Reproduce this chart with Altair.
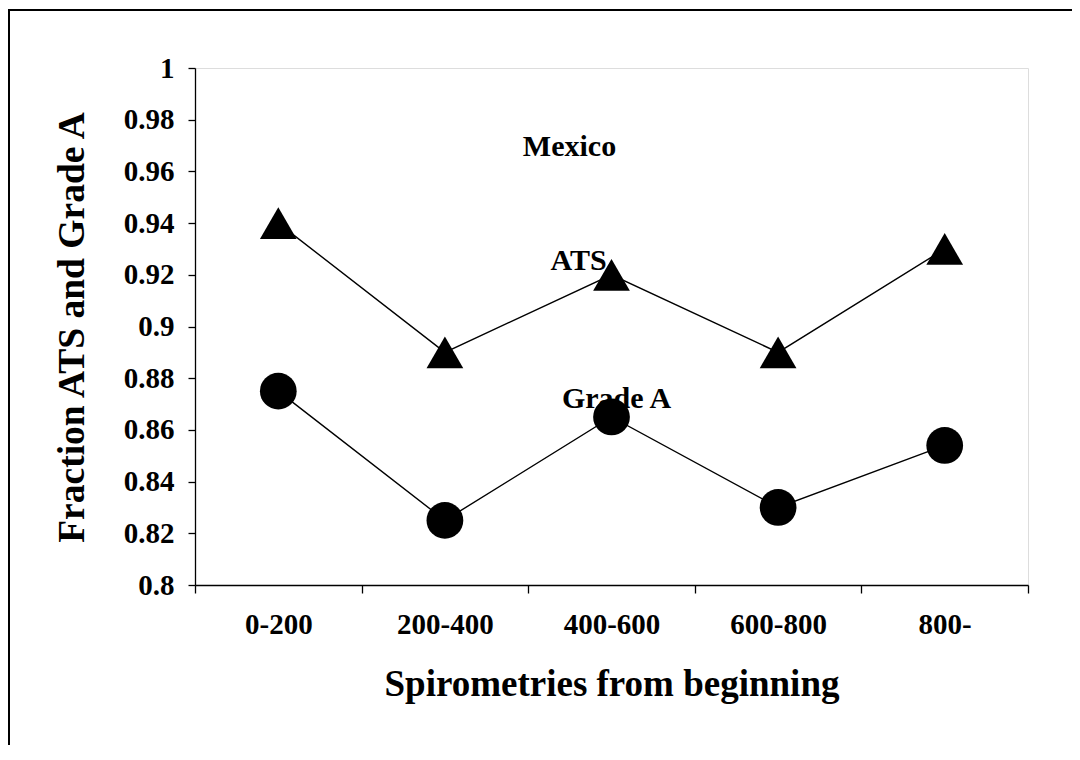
import altair as alt
import pandas as pd

categories = ["0-200", "200-400", "400-600", "600-800", "800-"]
ats_values = [0.94, 0.89, 0.92, 0.89, 0.93]
grade_a_values = [0.875, 0.825, 0.865, 0.83, 0.854]
y_ticks = [0.8, 0.82, 0.84, 0.86, 0.88, 0.9, 0.92, 0.94, 0.96, 0.98, 1.0]

ann_text = ["Mexico", "ATS", "Grade A"]
ann_cat = ["400-600", "400-600", "400-600"]
ann_val = [0.9696, 0.9253, 0.872]
ann_dx = [-42, -33, 5]

rows = []
for c, v in zip(categories, ats_values):
    rows.append({"cat": c, "val": v, "series": "ATS"})
for c, v in zip(categories, grade_a_values):
    rows.append({"cat": c, "val": v, "series": "Grade A"})
df = pd.DataFrame(rows)

FONT = "Liberation Serif"

x_enc = alt.X(
    "cat:N",
    sort=categories,
    scale=alt.Scale(type="band", domain=categories, paddingInner=0, paddingOuter=0),
    axis=alt.Axis(
        title="Spirometries from beginning",
        labelAngle=0,
        labelFont=FONT, labelFontSize=29, labelFontWeight="bold", labelColor="black",
        labelBaseline="middle", labelPadding=31,
        tickBand="extent", tickSize=8, tickColor="black", tickWidth=1.3,
        domainColor="black", domainWidth=1.3,
        titleFont=FONT, titleFontSize=37, titleFontWeight="bold", titleColor="black",
        titleY=110, titleBaseline="alphabetic",
        grid=False,
    ),
)
y_enc = alt.Y(
    "val:Q",
    scale=alt.Scale(domain=[0.8, 1.0], nice=False, zero=False),
    axis=alt.Axis(
        title="Fraction ATS and Grade A",
        values=y_ticks, format=".2~f",
        labelFont=FONT, labelFontSize=29, labelFontWeight="bold", labelColor="black",
        labelPadding=14,
        tickSize=7, tickColor="black", tickWidth=1.3,
        domainColor="black", domainWidth=1.3,
        titleFont=FONT, titleFontSize=37.5, titleFontWeight="bold", titleColor="black",
        titleX=-112, titleY=259, titleAngle=-90, titleBaseline="alphabetic",
        grid=False,
    ),
)

lines = alt.Chart(df).mark_line(color="black", strokeWidth=1.4).encode(
    x=x_enc, y=y_enc, detail="series:N"
)
points = alt.Chart(df).mark_point(filled=True, color="black", opacity=1, size=1350).encode(
    x=alt.X("cat:N", sort=categories),
    y="val:Q",
    shape=alt.Shape(
        "series:N",
        scale=alt.Scale(domain=["ATS", "Grade A"], range=["triangle-up", "circle"]),
        legend=None,
    ),
)

texts_layers = []
for t, c, v, d in zip(ann_text, ann_cat, ann_val, ann_dx):
    sub = pd.DataFrame({"text": [t], "cat": [c], "val": [v]})
    texts_layers.append(
        alt.Chart(sub).mark_text(
            font=FONT, fontSize=30, fontWeight="bold", color="black",
            baseline="middle", dx=d
        ).encode(x=alt.X("cat:N", sort=categories), y="val:Q", text="text:N")
    )

frame = alt.Chart(pd.DataFrame({"a": [0]})).mark_rect(
    fill=None, stroke="black", strokeWidth=2, clip=False
).encode(
    x=alt.value(-186), x2=alt.value(1000), y=alt.value(-58), y2=alt.value(800)
)

chart = alt.layer(frame, lines, points, *texts_layers).properties(
    width=833,
    height=517,
    autosize=alt.AutoSizeParams(type="none"),
    padding={"left": 187, "top": 60, "right": 44, "bottom": 160},
).configure_view(stroke=None).configure(background="white")

chart.save("out.html", embed_options={"renderer": "svg", "actions": False})
